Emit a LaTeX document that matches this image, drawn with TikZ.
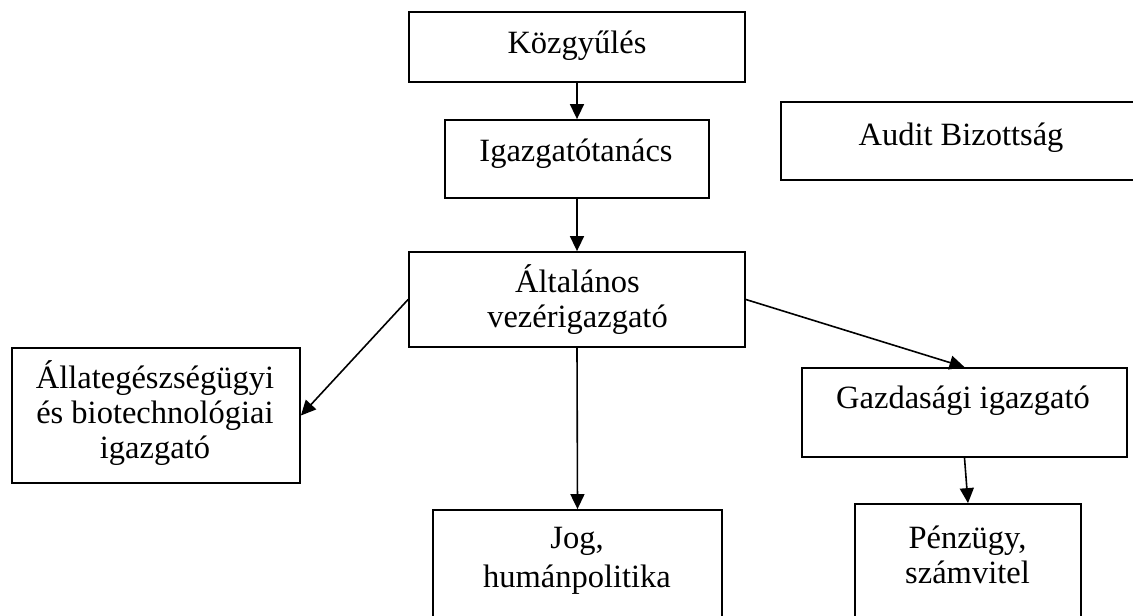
\documentclass[tikz,border=0pt]{standalone}
\usepackage{fontspec}
\setmainfont{Liberation Serif}
\usetikzlibrary{arrows.meta}
\tikzset{
  box/.style={draw=black, line width=1.8pt, rectangle, inner sep=0pt, fill=none},
  txt/.style={anchor=base, inner sep=0pt, font=\fontsize{32.5}{35}\selectfont},
  conn/.style={line width=1.6pt, -{Triangle[length=15pt,width=14pt]}}
}
\newcommand{\ml}[1]{\begin{tabular}[t]{@{}c@{}}#1\end{tabular}}
\begin{document}
\begin{tikzpicture}[x=1pt,y=-1pt]
\useasboundingbox (0,0) rectangle (1133,616);
\clip (0,0) rectangle (1133,616);
% boxes
\node[box, minimum width=336pt, minimum height=70pt] (k) at (577,47) {};
\node[box, minimum width=264pt, minimum height=78pt] (i) at (577,159) {};
\node[box, minimum width=364pt, minimum height=78pt] (au) at (963,141) {};
\node[box, minimum width=336pt, minimum height=95pt] (a) at (577,299.5) {};
\node[box, minimum width=288pt, minimum height=135pt] (st) at (156,415.5) {};
\node[box, minimum width=325pt, minimum height=89pt] (g) at (964.5,412.5) {};
\node[box, minimum width=289pt, minimum height=120pt] (j) at (577.5,570) {};
\node[box, minimum width=226pt, minimum height=126pt] (p) at (968,567) {};
% texts
\node[txt] (kt) at (577,53) {Közgyűlés};
\node[txt] (it) at (576,161.5) {Igazgatótanács};
\node[txt] (aut) at (961,145) {Audit Bizottság};
\node[txt] (at) at (577.5,292) {\ml{Általános\\vezérigazgató}};
\node[txt] (stt) at (155,388) {\ml{Állategészségügyi\\és biotechnológiai\\igazgató}};
\node[txt] (gt) at (963,408) {Gazdasági igazgató};
\node[txt] (jt) at (577,548) {\ml{Jog,\\[4pt]humánpolitika}};
\node[txt] (pt) at (967.5,548) {\ml{Pénzügy,\\számvitel}};
% connectors
\draw[conn] (k.south) -- (i.north);
\draw[conn] (i.south) -- (a.north);
\draw[conn] (a.west) -- (st.east);
\draw[conn] (a.south) -- (j.north);
\draw[conn] (a.east) -- (g.north);
\draw[conn] (g.south) -- (p.north);
\end{tikzpicture}
\end{document}
